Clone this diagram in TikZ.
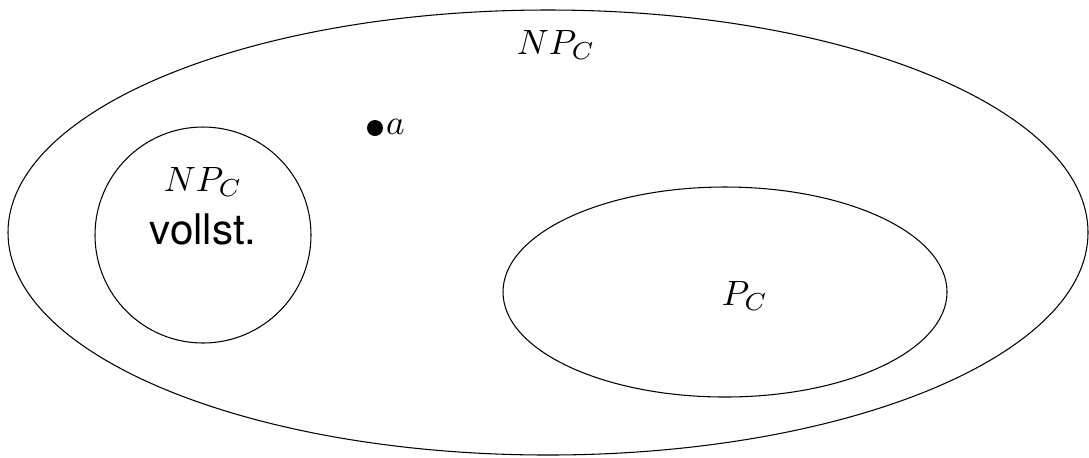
\documentclass[tikz,border=0pt]{standalone}
\usepackage{amsmath}
\usepackage{fontspec}
\newfontfamily\heros{TeX Gyre Heros}
\usepackage{tikz}
\usetikzlibrary{shapes,fit}

\begin{document}
\begin{tikzpicture}[x=0.01cm,y=-0.01cm,line width=0.3pt]
    \useasboundingbox (0,0) rectangle (1089,457);
    % NP_C
    \draw (548,232.5) ellipse [x radius=540, y radius=222.5];
    \node (np) at (556,45) {$NP_C$};
    
    % vollst.
    \draw (203,235) circle [radius=108];
    \node[align=center, inner sep=0pt] (npv) at (203,206) {$NP_C$\\[3pt]{\heros\fontsize{12}{14}\selectfont vollst.}};
    
    % P_C
    \draw (725,292) ellipse [x radius=222, y radius=105];
    \node (pc) at (745,296) {$P_C$};
    
    % Punkt a
    \fill (375,128) circle [radius=8];
    \node[anchor=west, inner sep=1pt] (a) at (382,127) {$a$};
\end{tikzpicture}
\end{document}
